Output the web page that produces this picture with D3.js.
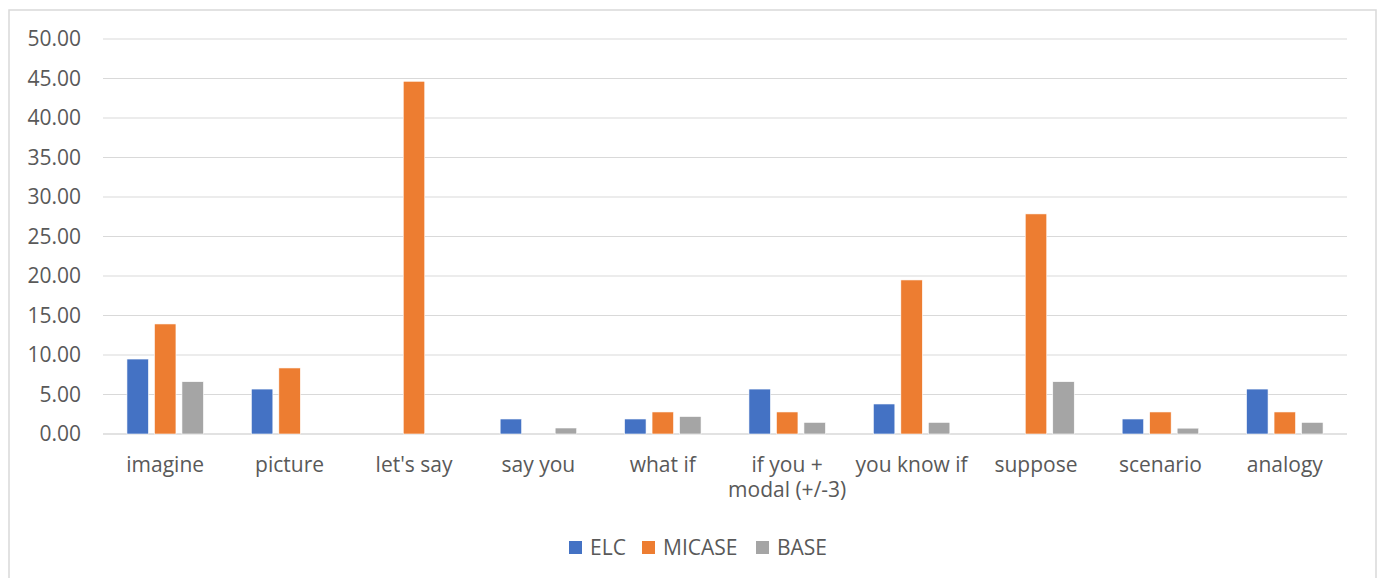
<!DOCTYPE html>
<html>
<head>
<meta charset="utf-8">
<script src="https://cdn.jsdelivr.net/npm/d3@7"></script>
<style>
  body { margin: 0; background: #fff; }
  text { font-family: "Open Sans", "Noto Sans", sans-serif; fill: #595959; }
</style>
</head>
<body>
<div class="chart"></div>
<script>
var categories = ["imagine", "picture", "let's say", "say you", "what if", "if you + |modal (+/-3)", "you know if", "suppose", "scenario", "analogy"];
var seriesNames = ["ELC", "MICASE", "BASE"];
var elc    = [9.49, 5.69, 0, 1.90, 1.90, 5.69, 3.80, 0, 1.90, 5.69];
var micase = [13.93, 8.36, 44.65, 0, 2.79, 2.79, 19.50, 27.86, 2.79, 2.79];
var base   = [6.62, 0, 0, 0.76, 2.21, 1.47, 1.47, 6.62, 0.74, 1.47];
var yTicks = [0, 5, 10, 15, 20, 25, 30, 35, 40, 45, 50];
var colors = ["#4472C4", "#ED7D31", "#A5A5A5"];

var width = 1381;
var height = 578;
var plotLeft = 103, plotRight = 1347, plotTop = 39, plotBottom = 434; // plot area
var fontSize = "21px";

var rows = categories.map(function(c, i) {
    return { cat: c, values: [elc[i], micase[i], base[i]] };
});

var svg = d3.select(".chart")
    .append("svg")
    .attr("width", width)
    .attr("height", height);

// outer chart border
svg.append("rect")
    .attr("x", 9).attr("y", 10)
    .attr("width", 1367).attr("height", 600)
    .attr("fill", "none")
    .attr("stroke", "#d9d9d9")
    .attr("stroke-width", 1.5);

var x0 = d3.scaleBand().domain(categories).range([plotLeft, plotRight]).padding(0);
var groupW = x0.bandwidth() * 0.615;
var x1 = d3.scaleBand().domain(seriesNames).range([0, groupW]).paddingInner(0.218);
var y = d3.scaleLinear().domain([0, 50]).range([plotBottom, plotTop]);

// gridlines
svg.append("g")
    .selectAll("line")
    .data(yTicks)
    .enter()
    .append("line")
    .attr("x1", plotLeft).attr("x2", plotRight)
    .attr("y1", function(d) { return y(d); })
    .attr("y2", function(d) { return y(d); })
    .attr("stroke", "#d9d9d9")
    .attr("stroke-width", function(d) { return d === 0 ? 1.5 : 1; });

// y axis labels
var yAxis = d3.axisLeft(y).tickValues(yTicks).tickSize(0).tickPadding(0)
    .tickFormat(d3.format(".2f"));
var ya = svg.append("g").attr("transform", "translate(81,0)").call(yAxis);
ya.select(".domain").remove();
ya.selectAll("text").style("font-size", fontSize).style("fill", "#595959")
    .style("font-family", "'Open Sans', sans-serif");

// bars
var groups = svg.append("g").selectAll("g")
    .data(rows)
    .enter()
    .append("g")
    .attr("transform", function(d) {
        return "translate(" + (x0(d.cat) + (x0.bandwidth() - groupW) / 2) + ",0)";
    });

groups.selectAll("rect")
    .data(function(d) { return d.values.map(function(v, i) { return { name: seriesNames[i], v: v, i: i }; }); })
    .enter()
    .append("rect")
    .filter(function(d) { return d.v > 0; })
    .attr("x", function(d) { return x1(d.name); })
    .attr("width", x1.bandwidth())
    .attr("y", function(d) { return y(d.v); })
    .attr("height", function(d) { return plotBottom - y(d.v); })
    .attr("fill", function(d) { return colors[d.i]; })
    .attr("stroke", "#fff")
    .attr("stroke-width", 0.6);

// category labels (two lines where needed, one text per line)
var xa = svg.append("g");
rows.forEach(function(d) {
    var lines = d.cat.split("|");
    lines.forEach(function(l, k) {
        xa.append("text")
            .attr("x", x0(d.cat) + x0.bandwidth() / 2)
            .attr("y", 472 + k * 25)
            .attr("text-anchor", "middle")
            .style("font-size", fontSize)
            .text(l.trim());
    });
});

// legend
var legendX = [569, 642, 756];
var legend = svg.append("g").selectAll("g")
    .data(seriesNames)
    .enter()
    .append("g")
    .attr("transform", function(d, i) { return "translate(" + legendX[i] + ",541)"; });
legend.append("rect")
    .attr("width", 13).attr("height", 13)
    .attr("fill", function(d, i) { return colors[i]; });
legend.append("text")
    .attr("x", 21).attr("y", 14)
    .style("font-size", fontSize)
    .text(function(d) { return d; });
</script>
</body>
</html>
